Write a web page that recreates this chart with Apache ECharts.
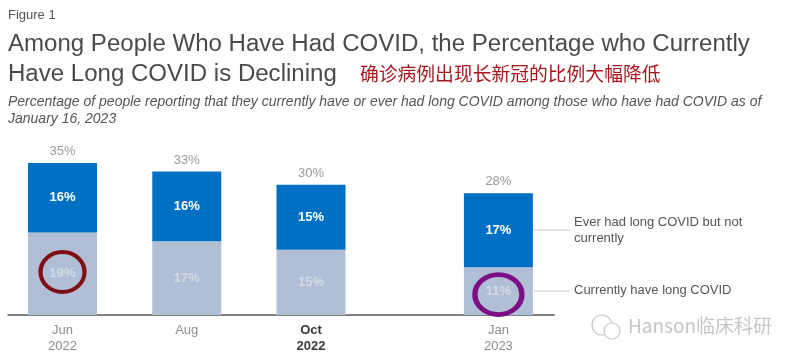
<!DOCTYPE html>
<html><head><meta charset="utf-8">
<style>html,body{margin:0;padding:0;background:#fff}#c{width:800px;height:361px}</style>
<script src="https://cdn.jsdelivr.net/npm/echarts@6/dist/echarts.min.js"></script>
</head><body><div id="c"></div>
<script>
const figureLabel = 'Figure 1';
const titleLines = ['Among People Who Have Had COVID, the Percentage who Currently', 'Have Long COVID is Declining'];
const titleZh = '确诊病例出现长新冠的比例大幅降低';
const subtitleLines = ['Percentage of people reporting that they currently have or ever had long COVID among those who have had COVID as of', 'January 16, 2023'];
const months = ['Jun', 'Aug', 'Oct', 'Jan'];
const years = ['2022', '', '2022', '2023'];
const surveyDates = ['2022-06-01', '2022-08-01', '2022-10-01', '2023-01-01'];
const currentlyHave = [19, 17, 15, 11];
const everHadNotNow = [16, 16, 15, 17];
const totals = [35, 33, 30, 28];
const seriesNotes = ['Ever had long COVID but not\ncurrently', 'Currently have long COVID'];
const watermark = 'Hanson临床科研';

const font = '"Liberation Sans", Arial, sans-serif';
const pct = v => v + '%';
const ts = d => new Date(d + 'T00:00:00').getTime();
const stamps = surveyDates.map(ts);
const DAY = 86400000;
const xMin = stamps[0] - 26.76 * DAY;
const xMax = stamps[0] + 241.3 * DAY;
// ECharts widens a bar-carrying time axis by the bar width; pre-shrink so the final extent is xMin..xMax.
const BAR_W = 69, AXIS_LEN = 546;
const inset = (xMax - xMin) * (BAR_W / AXIS_LEN) / 2;
const zip = arr => stamps.map((m, i) => [m, arr[i]]);
const chart = echarts.init(document.getElementById('c'), null, {renderer: 'canvas'});

const txt = (x, y, text, style) => ({type: 'text', left: x, top: y, silent: true,
  style: Object.assign({text, font: '13px ' + font, fill: '#444'}, style)});
const leader = (x1, x2, y) => ({type: 'line', silent: true,
  shape: {x1, y1: y, x2, y2: y}, style: {stroke: '#c4c8cf', lineWidth: 1}});
const bubble = (cx, cy, r) => ({type: 'circle', silent: true, shape: {cx, cy, r},
  style: {fill: '#fff', stroke: '#c6c6c6', lineWidth: 1.2}});

chart.setOption({
  animation: false,
  backgroundColor: '#fff',
  grid: {left: 8, right: 246, top: 141.2, height: 173.8},
  xAxis: [
    {type: 'time', min: xMin + inset, max: xMax - inset, show: false},
    {type: 'value', min: xMin, max: xMax, position: 'bottom', splitLine: {show: false},
     axisLine: {show: true, onZero: false, lineStyle: {color: '#55585c', width: 1.5}},
     axisTick: {show: false},
     axisLabel: {
       customValues: stamps, margin: 7, lineHeight: 16, align: 'center', hideOverlap: false,
       showMinLabel: true, showMaxLabel: true,
       formatter: v => {
         const i = stamps.indexOf(v);
         if (i < 0) return '';
         const k = months[i] === 'Oct' ? 'b' : 'g';
         return years[i] ? `{${k}|${months[i]}}\n{${k}|${years[i]}}` : `{${k}|${months[i]}}`;
       },
       rich: {
         g: {color: '#8c8c8c', fontSize: 13, fontFamily: font, lineHeight: 16},
         b: {color: '#3a3a3a', fontSize: 13, fontWeight: 'bold', fontFamily: font, lineHeight: 16}
       }
     }}
  ],
  yAxis: {type: 'value', min: 0, max: 40, show: false},
  series: [
    {name: 'Currently have long COVID', type: 'bar', stack: 's', barWidth: BAR_W, data: zip(currentlyHave),
     itemStyle: {color: '#b0bfd6'},
     label: {show: true, position: 'inside', formatter: p => pct(p.value[1]), color: '#d5dbe6', fontSize: 13, fontWeight: 'bold', fontFamily: font}},
    {name: 'Ever had long COVID but not currently', type: 'bar', stack: 's', barWidth: BAR_W, data: zip(everHadNotNow),
     itemStyle: {color: '#0070c4'},
     label: {show: true, position: 'inside', formatter: p => pct(p.value[1]), color: '#fff', fontSize: 13, fontWeight: 'bold', fontFamily: font}},
    {name: 'Total', type: 'scatter', symbolSize: 0, data: zip(totals), z: 5,
     label: {show: true, position: 'top', distance: 5, formatter: p => pct(p.value[1]), color: '#7f7f7f', fontSize: 13, fontFamily: font}},
    {type: 'scatter', clip: false, z: 6, symbol: 'circle', symbolSize: [44, 40], data: [[stamps[0], 9.9]], silent: true,
     itemStyle: {color: 'rgba(0,0,0,0)', borderColor: '#7f0f14', borderWidth: 4, opacity: 1}},
    {type: 'scatter', clip: false, z: 6, symbol: 'circle', symbolSize: [47, 40], data: [[stamps[3], 4.7]], silent: true,
     itemStyle: {color: 'rgba(0,0,0,0)', borderColor: '#7d0f86', borderWidth: 5, opacity: 1}}
  ],
  graphic: [
    txt(8, 9, figureLabel, {font: '13px ' + font, fill: '#555'}),
    txt(8, 32, titleLines[0], {font: '24.06px ' + font, fill: '#4a4a4a'}),
    txt(8, 62, titleLines[1], {font: '24.06px ' + font, fill: '#4a4a4a'}),
    txt(360, 64.5, titleZh, {font: '18.8px "Noto Sans CJK SC", sans-serif', fill: '#a5161f'}),
    txt(8, 95, subtitleLines[0], {font: 'italic 14px ' + font, fill: '#555'}),
    txt(8, 112.5, subtitleLines[1], {font: 'italic 14px ' + font, fill: '#555'}),
    leader(534, 570, 230),
    leader(534, 570, 291),
    txt(574, 214, seriesNotes[0], {font: '13px ' + font, fill: '#555', lineHeight: 16}),
    txt(574, 284, seriesNotes[1], {font: '13px ' + font, fill: '#555'}),
    bubble(602, 325, 10),
    bubble(612, 331, 8),
    txt(628, 316, watermark, {font: '19px "Noto Sans CJK SC", sans-serif', fill: '#c6c6c6'})
  ]
});
</script></body></html>
